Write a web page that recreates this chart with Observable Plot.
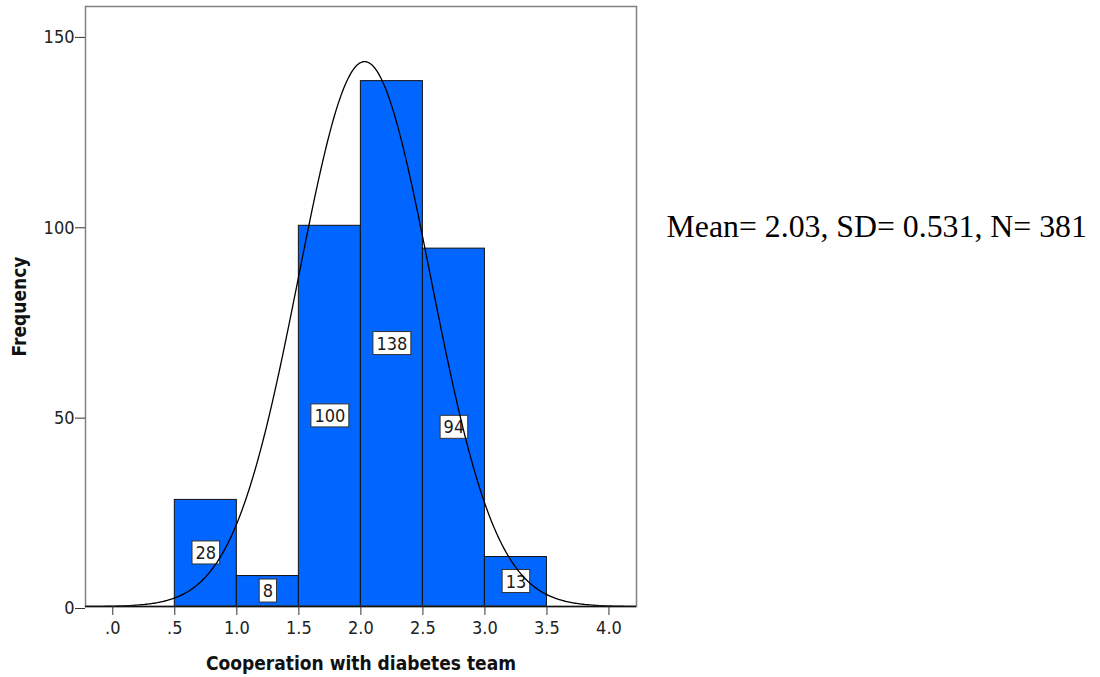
<!DOCTYPE html>
<html><head><meta charset="utf-8">
<script src="https://cdn.jsdelivr.net/npm/d3@7"></script>
<script src="https://cdn.jsdelivr.net/npm/@observablehq/plot@0.6"></script>
<style>
body{margin:0;background:#fff;}
#wrap{width:1100px;height:677px;}
</style></head><body><div id="wrap"></div><script>
// histogram bins
const binStart = [0.5, 1.0, 1.5, 2.0, 2.5, 3.0];
const binEnd   = [1.0, 1.5, 2.0, 2.5, 3.0, 3.5];
const counts   = [28, 8, 100, 138, 94, 13];
// axis ticks
const xTicks = [0, 0.5, 1.0, 1.5, 2.0, 2.5, 3.0, 3.5, 4.0];
const xTickLabels = [".0", ".5", "1.0", "1.5", "2.0", "2.5", "3.0", "3.5", "4.0"];
const yTicks = [0, 50, 100, 150];
// summary statistics (normal curve parameters)
const mean = 2.03, sd = 0.531, n = 381, binWidth = 0.5;
const statsText = "Mean= 2.03, SD= 0.531, N= 381";
const xTitle = "Cooperation with diabetes team";
const yTitle = "Frequency";

const cond = "'DejaVu Sans Condensed', 'DejaVu Sans', sans-serif";
const bins = counts.map((c, i) => ({x1: binStart[i], x2: binEnd[i], count: c, label: String(c)}));
const xDomain = [-0.22, 4.222];
const curve = d3.range(xDomain[0], xDomain[1] + 1e-9, 0.01).map(x => ({
  x, y: n * binWidth * Math.exp(-0.5 * ((x - mean) / sd) ** 2) / (sd * Math.sqrt(2 * Math.PI))
}));

const chart = Plot.plot({
  width: 1100, height: 677,
  marginLeft: 85, marginRight: 464, marginTop: 6, marginBottom: 71,
  x: {domain: xDomain},
  y: {domain: [0, 157.6]},
  style: {fontFamily: cond, fontSize: "18px", color: "#222", background: "#fff"},
  marks: [
    Plot.rectY(bins, {x1: "x1", x2: "x2", y: "count", fill: "#0066ff", stroke: "#111", strokeWidth: 1}),
    Plot.text(bins, {x: d => (d.x1 + d.x2) / 2, y: d => d.count / 2, text: "label", fontSize: 18, fill: "#1a1a1a"}),
    Plot.line(curve, {x: "x", y: "y", stroke: "#000", strokeWidth: 1.3}),
    Plot.frame({stroke: "#808080", strokeWidth: 1.5}),
    Plot.ruleY([0], {stroke: "#111", strokeWidth: 1.3}),
    Plot.axisX({ticks: xTicks, tickFormat: (d, i) => xTickLabels[i], tickSize: 9, tickPadding: 6, label: null, stroke: "#333"}),
    Plot.axisY({ticks: yTicks, tickSize: 10, tickPadding: 1, dy: 2, label: null, stroke: "#333"}),
    Plot.text([xTitle], {frameAnchor: "bottom", dy: 57, textAnchor: "middle", lineAnchor: "middle", fontWeight: "bold", fontSize: 19, fill: "#111"}),
    Plot.text([yTitle], {frameAnchor: "left", dx: -66, rotate: -90, textAnchor: "middle", lineAnchor: "middle", fontWeight: "bold", fontSize: 19, fill: "#111"}),
    Plot.text([statsText], {frameAnchor: "top-right", dx: 30, dy: 220, textAnchor: "start", lineAnchor: "middle", fontFamily: "Liberation Serif", fontSize: 31.8, fill: "#000"})
  ]
});
document.getElementById("wrap").appendChild(chart);

// white boxes behind the bar value labels
const labelGroup = chart.querySelectorAll('g[aria-label="text"]')[0];
if (labelGroup) {
  labelGroup.querySelectorAll("text").forEach(t => {
    const b = t.getBBox();
    const r = document.createElementNS("http://www.w3.org/2000/svg", "rect");
    r.setAttribute("x", b.x - 3.5);
    r.setAttribute("y", b.y - 1);
    r.setAttribute("width", b.width + 7);
    r.setAttribute("height", b.height + 2);
    r.setAttribute("fill", "#fff");
    r.setAttribute("stroke", "#333");
    r.setAttribute("stroke-width", 1);
    const tr = t.getAttribute("transform");
    if (tr) r.setAttribute("transform", tr);
    t.parentNode.insertBefore(r, t);
  });
}
</script></body></html>
